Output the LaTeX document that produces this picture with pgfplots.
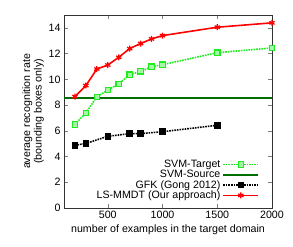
\documentclass[border=0pt]{standalone}
\usepackage{pgfplots}
\pgfplotsset{compat=1.18}
\usepackage{fontspec}
\setmainfont{Liberation Sans}
\definecolor{tgreen}{RGB}{30,235,30}
\definecolor{dgreen}{RGB}{0,110,0}
\begin{document}
\begin{tikzpicture}
\begin{axis}[
  scale only axis, width=208bp, height=193bp,
  xmin=100, xmax=2000, ymin=0, ymax=15,
  xtick={500,1000,1500,2000}, ytick={0,2,...,14},
  tick align=inside, tick pos=both, major tick length=4bp,
  /pgf/number format/assume math mode=true,
  /pgf/number format/set thousands separator={},
  ticklabel style={font=\fontsize{10.7}{12}\selectfont},
  label style={font=\fontsize{10.7}{11.5}\selectfont},
  xlabel={number of examples in the target domain},
  ylabel={average recognition rate\\(bounding boxes only)},
  ylabel style={align=center, yshift=-2bp},
  xlabel style={yshift=1bp},
  axis line style={black!80},
  legend style={at={(0.94,0.03)}, anchor=south east, draw=none, fill=none,
    font=\fontsize{10.7}{12}\selectfont, row sep=-2.8pt, inner sep=0pt},
  legend cell align=right,
  legend plot pos=right,
  legend image code/.code={\draw[mark repeat=2,mark phase=2] plot coordinates {(0cm,0cm)(0.62cm,0cm)(1.24cm,0cm)};},
]
\addplot[tgreen, line width=1.6pt, densely dotted, mark=square*, mark size=2.7pt,
  mark options={solid, fill=tgreen!40, draw=tgreen, line width=1.1pt}]
  coordinates {(200,6.5)(300,7.39)(400,8.64)(500,9.16)(600,9.65)(700,10.36)(800,10.62)(900,10.98)(1000,11.14)(1500,12.07)(2000,12.44)};
\addlegendentry{SVM-Target}
\addplot[dgreen, line width=1.8pt, no marks] coordinates {(100,8.53)(2000,8.53)};
\addlegendentry{SVM-Source}
\addplot[black, line width=1.6pt, densely dotted, mark=square*, mark size=2.5pt,
  mark options={solid, fill=black}]
  coordinates {(200,4.87)(300,5.02)(500,5.57)(700,5.78)(800,5.78)(1000,5.93)(1500,6.43)};
\addlegendentry{GFK (Gong 2012)}
\addplot[red, line width=1.6pt, mark=asterisk, mark size=3pt, mark options={solid, line width=1.3pt}]
  coordinates {(200,8.66)(300,9.52)(400,10.8)(500,11.11)(600,11.71)(700,12.39)(800,12.78)(900,13.14)(1000,13.4)(1500,14.05)(2000,14.39)};
\addlegendentry{LS-MMDT (Our approach)}
\end{axis}
\path ([xshift=-64bp,yshift=15bp]current axis.north west) rectangle ([xshift=21bp,yshift=-39bp]current axis.south east);
\end{tikzpicture}
\end{document}
